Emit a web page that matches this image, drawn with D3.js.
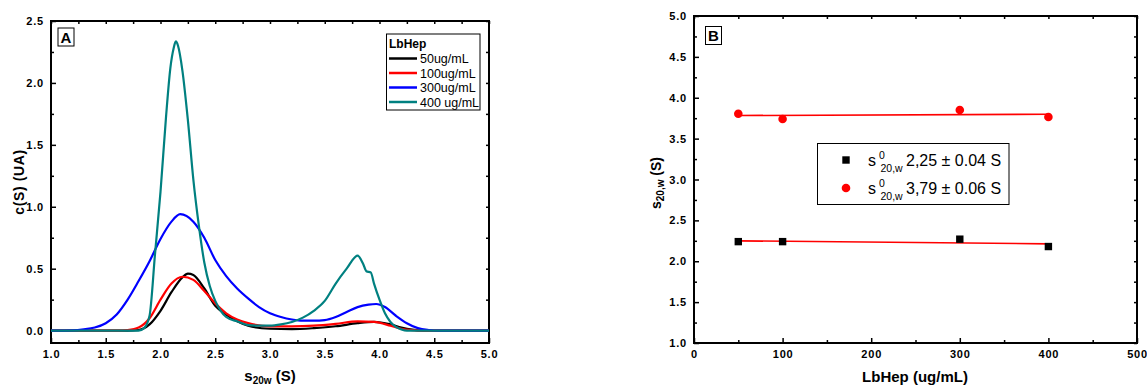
<!DOCTYPE html>
<html>
<head>
<meta charset="utf-8">
<script src="https://cdn.jsdelivr.net/npm/d3@7"></script>
<style>
  body { margin: 0; background: #fff; }
  svg { font-family: "Liberation Sans", Arial, sans-serif; }
  .tick text { font-weight: bold; font-size: 11px; letter-spacing: 0.8px; fill: #000; }
  .axis path { display: none; }
  .axis line { stroke: #000; stroke-width: 1.5; }
</style>
</head>
<body>
<div id="chart"></div>
<script>
// ---- panel A: c(S) distributions ----
var s50  = [1.0, 1.7, 1.8, 1.9, 2.0, 2.1, 2.2, 2.25, 2.3, 2.4, 2.5, 2.6, 2.7, 2.8, 3.0, 3.2, 3.4, 3.6, 3.8, 3.95, 4.1, 4.2, 4.3, 4.4, 5.0];
var c50  = [0, 0, 0.005, 0.05, 0.16, 0.31, 0.43, 0.46, 0.45, 0.34, 0.20, 0.13, 0.075, 0.04, 0.015, 0.012, 0.02, 0.035, 0.06, 0.07, 0.05, 0.025, 0.008, 0, 0];

var s100 = [1.0, 1.6, 1.7, 1.8, 1.9, 2.0, 2.1, 2.2, 2.3, 2.4, 2.5, 2.6, 2.7, 2.8, 3.0, 3.2, 3.4, 3.6, 3.8, 3.95, 4.1, 4.2, 4.3, 4.4, 5.0];
var c100 = [0, 0, 0.005, 0.025, 0.1, 0.25, 0.38, 0.435, 0.41, 0.32, 0.22, 0.14, 0.09, 0.06, 0.035, 0.035, 0.04, 0.055, 0.075, 0.07, 0.04, 0.015, 0.004, 0, 0];

var s300 = [1.0, 1.2, 1.3, 1.4, 1.5, 1.6, 1.7, 1.8, 1.9, 2.0, 2.1, 2.18, 2.3, 2.4, 2.5, 2.6, 2.7, 2.8, 2.9, 3.0, 3.1, 3.2, 3.3, 3.4, 3.5, 3.6, 3.7, 3.8, 3.9, 3.97, 4.05, 4.15, 4.25, 4.35, 4.45, 4.55, 5.0];
var c300 = [0, 0.002, 0.01, 0.025, 0.06, 0.13, 0.25, 0.40, 0.56, 0.74, 0.88, 0.94, 0.88, 0.75, 0.57, 0.44, 0.34, 0.26, 0.19, 0.14, 0.11, 0.09, 0.08, 0.08, 0.085, 0.11, 0.15, 0.19, 0.21, 0.215, 0.19, 0.12, 0.06, 0.02, 0.005, 0, 0];

var s400 = [1.0, 1.8, 1.85, 1.9, 1.95, 2.0, 2.05, 2.09, 2.12, 2.14, 2.16, 2.2, 2.25, 2.3, 2.35, 2.4, 2.45, 2.5, 2.55, 2.6, 2.7, 2.8, 2.9, 3.0, 3.1, 3.2, 3.3, 3.4, 3.5, 3.6, 3.7, 3.8, 3.85, 3.88, 3.92, 3.95, 4.0, 4.05, 4.1, 4.15, 4.2, 4.25, 5.0];
var c400 = [0, 0, 0.02, 0.12, 0.62, 1.12, 1.72, 2.12, 2.28, 2.335, 2.30, 2.10, 1.70, 1.22, 0.85, 0.55, 0.36, 0.24, 0.16, 0.11, 0.075, 0.045, 0.04, 0.04, 0.05, 0.07, 0.105, 0.16, 0.24, 0.38, 0.50, 0.605, 0.54, 0.48, 0.47, 0.38, 0.25, 0.14, 0.07, 0.03, 0.01, 0, 0];

var legendA = ["50ug/mL", "100ug/mL", "300ug/mL", "400 ug/mL"];
var colorsA = ["#000000", "#ff0000", "#0000ff", "#008080"];

// ---- panel B: sedimentation coefficients vs concentration ----
var concB = [50, 100, 300, 400];
var sPeak1 = [2.24, 2.24, 2.27, 2.18];
var sPeak2 = [3.805, 3.74, 3.85, 3.765];
var legendB = ["2,25 \u00b1 0.04 S", "3,79 \u00b1 0.06 S"];

var svg = d3.select("#chart").append("svg")
  .attr("width", 1147)
  .attr("height", 387);

// draws inward major/minor ticks on all four sides plus a frame
function frame(g, x, y, xMaj, xMin, yMaj, yMin, xFmt, yFmt) {
  var x0 = x.range()[0], x1 = x.range()[1];
  var y0 = y.range()[0], y1 = y.range()[1];

  g.append("g").attr("class", "axis").attr("transform", `translate(0,${y0})`)
    .call(d3.axisBottom(x).tickValues(xMaj).tickSize(-5).tickPadding(7).tickFormat(xFmt));
  g.append("g").attr("class", "axis").attr("transform", `translate(0,${y0})`)
    .call(d3.axisBottom(x).tickValues(xMin).tickSize(-3).tickFormat(""));
  g.append("g").attr("class", "axis").attr("transform", `translate(0,${y1})`)
    .call(d3.axisTop(x).tickValues(xMaj.concat(xMin)).tickSize(-3).tickFormat(""));

  g.append("g").attr("class", "axis").attr("transform", `translate(${x0},0)`)
    .call(d3.axisLeft(y).tickValues(yMaj).tickSize(-5).tickPadding(7).tickFormat(yFmt));
  g.append("g").attr("class", "axis").attr("transform", `translate(${x0},0)`)
    .call(d3.axisLeft(y).tickValues(yMin).tickSize(-3).tickFormat(""));
  g.append("g").attr("class", "axis").attr("transform", `translate(${x1},0)`)
    .call(d3.axisRight(y).tickValues(yMaj.concat(yMin)).tickSize(-3).tickFormat(""));

  g.append("rect")
    .attr("x", x0).attr("y", y1)
    .attr("width", x1 - x0).attr("height", y0 - y1)
    .attr("fill", "none").attr("stroke", "#000").attr("stroke-width", 2);
}

function panelTag(g, x, y, label) {
  g.append("rect").attr("x", x).attr("y", y).attr("width", 16).attr("height", 18)
    .attr("fill", "#fff").attr("stroke", "#000").attr("stroke-width", 1);
  g.append("text").attr("x", x + 8).attr("y", y + 14.5)
    .attr("text-anchor", "middle").attr("font-weight", "bold").attr("font-size", "15px")
    .text(label);
}

// ================= Panel A =================
var gA = svg.append("g");
var xA = d3.scaleLinear().domain([1, 5]).range([51, 489]);
var yA = d3.scaleLinear().domain([-0.1, 2.5]).range([343, 21]);

frame(gA, xA, yA,
  d3.range(0, 9).map(i => 1 + i * 0.5), d3.range(0, 8).map(i => 1.25 + i * 0.5),
  d3.range(0, 6).map(i => i * 0.5), d3.range(0, 5).map(i => 0.25 + i * 0.5),
  d3.format(".1f"), d3.format(".1f"));

var seriesA = [[s50, c50], [s100, c100], [s300, c300], [s400, c400]];
var lineA = d3.line()
  .x(d => xA(d[0]))
  .y(d => yA(d[1]))
  .curve(d3.curveMonotoneX);

seriesA.forEach(function(sr, i) {
  var pts = sr[0].map((s, j) => [s, sr[1][j]]);
  gA.append("path")
    .datum(pts)
    .attr("d", lineA)
    .attr("fill", "none")
    .attr("stroke", colorsA[i])
    .attr("stroke-width", 2.2);
});

panelTag(gA, 58, 28, "A");

// legend A
gA.append("rect").attr("x", 386.5).attr("y", 34).attr("width", 93.5).attr("height", 76)
  .attr("fill", "#fff").attr("stroke", "#000").attr("stroke-width", 1);
gA.append("text").attr("x", 389).attr("y", 47.5)
  .attr("font-weight", "bold").attr("font-size", "12px").text("LbHep");
legendA.forEach(function(lbl, i) {
  var yy = 58.5 + i * 14.5;
  gA.append("line").attr("x1", 389).attr("x2", 417).attr("y1", yy).attr("y2", yy)
    .attr("stroke", colorsA[i]).attr("stroke-width", 2.5);
  gA.append("text").attr("x", 420).attr("y", yy + 4.5)
    .attr("font-size", "12.5px").text(lbl);
});

// axis titles A
gA.append("text")
  .attr("transform", "translate(24,182) rotate(-90)")
  .attr("text-anchor", "middle").attr("font-weight", "bold").attr("font-size", "14px")
  .attr("letter-spacing", "0.6px")
  .text("c(S) (UA)");

var xtA = gA.append("text")
  .attr("x", 270).attr("y", 381)
  .attr("text-anchor", "middle").attr("font-weight", "bold").attr("font-size", "15px");
xtA.append("tspan").text("s");
xtA.append("tspan").attr("font-size", "10px").attr("dy", 3).text("20w");
xtA.append("tspan").attr("dy", -3).text(" (S)");

// ================= Panel B =================
var gB = svg.append("g");
var xB = d3.scaleLinear().domain([0, 500]).range([694, 1137]);
var yB = d3.scaleLinear().domain([1, 5]).range([343, 16]);

frame(gB, xB, yB,
  d3.range(0, 6).map(i => i * 100), d3.range(0, 5).map(i => 50 + i * 100),
  d3.range(0, 9).map(i => 1 + i * 0.5), d3.range(0, 8).map(i => 1.25 + i * 0.5),
  d3.format("d"), d3.format(".1f"));

// least-squares lines through each set of points
function fit(xs, ys) {
  var mx = d3.mean(xs), my = d3.mean(ys);
  var num = d3.sum(xs, (v, i) => (v - mx) * (ys[i] - my));
  var den = d3.sum(xs, v => (v - mx) * (v - mx));
  var b = num / den, a = my - b * mx;
  return [[d3.min(xs), a + b * d3.min(xs)], [d3.max(xs), a + b * d3.max(xs)]];
}

var lineB = d3.line().x(d => xB(d[0])).y(d => yB(d[1]));
[sPeak1, sPeak2].forEach(function(vals) {
  gB.append("path")
    .datum(fit(concB, vals))
    .attr("d", lineB)
    .attr("fill", "none")
    .attr("stroke", "#ff0000")
    .attr("stroke-width", 1.6);
});

gB.selectAll("rect.sq")
  .data(concB)
  .enter()
  .append("rect")
  .attr("class", "sq")
  .attr("x", (d, i) => xB(d) - 3.7)
  .attr("y", (d, i) => yB(sPeak1[i]) - 3.7)
  .attr("width", 7.4).attr("height", 7.4)
  .attr("fill", "#000");

gB.selectAll("circle.pt")
  .data(concB)
  .enter()
  .append("circle")
  .attr("class", "pt")
  .attr("cx", d => xB(d))
  .attr("cy", (d, i) => yB(sPeak2[i]))
  .attr("r", 4.3)
  .attr("fill", "#ff0000");

panelTag(gB, 705.5, 26.5, "B");

// legend B
gB.append("rect").attr("x", 817.5).attr("y", 143.5).attr("width", 191.5).attr("height", 61)
  .attr("fill", "#fff").attr("stroke", "#000").attr("stroke-width", 1);
gB.append("rect").attr("x", 842.3).attr("y", 156.3).attr("width", 7.4).attr("height", 7.4).attr("fill", "#000");
gB.append("circle").attr("cx", 846).attr("cy", 188).attr("r", 4.3).attr("fill", "#ff0000");
legendB.forEach(function(lbl, i) {
  var yy = 166 + i * 28;
  gB.append("text").attr("x", 868).attr("y", yy).attr("font-size", "16px").text("s");
  gB.append("text").attr("x", 879).attr("y", yy - 7).attr("font-size", "10.5px").text("0");
  gB.append("text").attr("x", 880.5).attr("y", yy + 6).attr("font-size", "10.5px").text("20,w");
  gB.append("text").attr("x", 906).attr("y", yy).attr("font-size", "16px").text(lbl);
});

// axis titles B
var ytB = gB.append("text")
  .attr("transform", "translate(661,183) rotate(-90)")
  .attr("text-anchor", "middle").attr("font-weight", "bold").attr("font-size", "14px");
ytB.append("tspan").text("s");
ytB.append("tspan").attr("font-size", "10px").attr("dy", 3).text("20,w");
ytB.append("tspan").attr("dy", -3).text(" (S)");

gB.append("text")
  .attr("x", 915).attr("y", 382)
  .attr("text-anchor", "middle").attr("font-weight", "bold").attr("font-size", "15px")
  .text("LbHep (ug/mL)");
</script>
</body>
</html>
